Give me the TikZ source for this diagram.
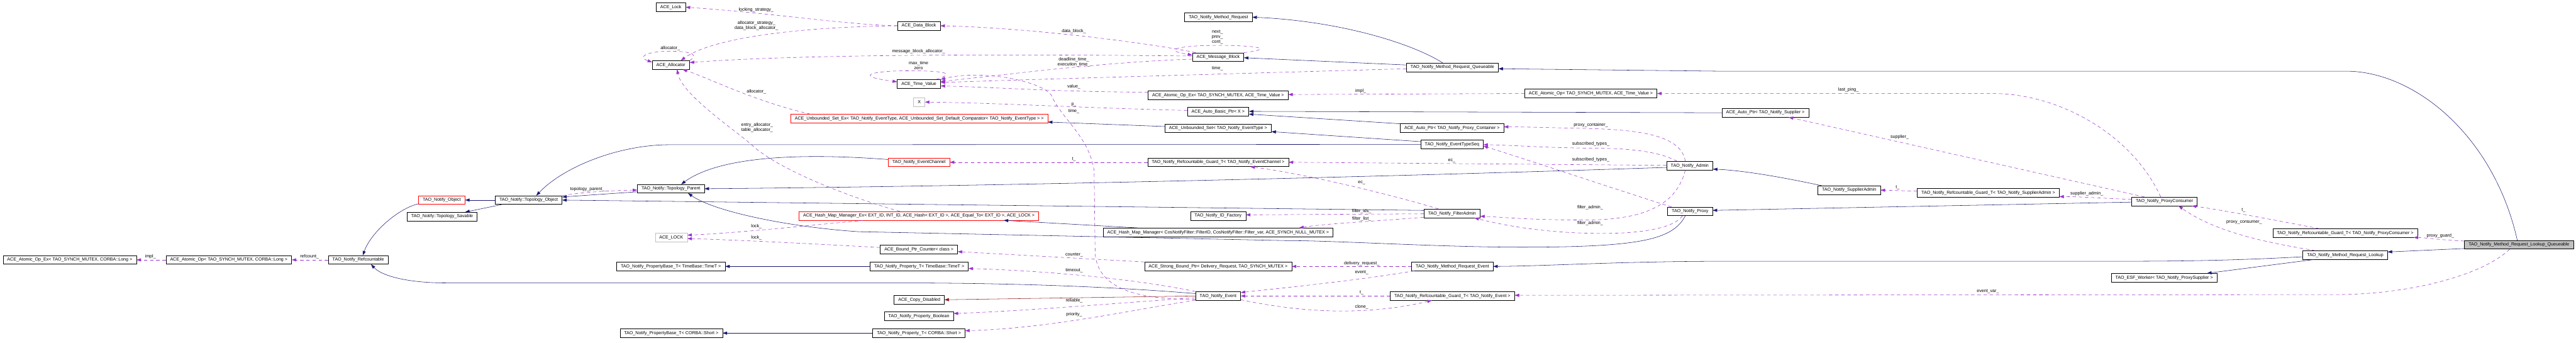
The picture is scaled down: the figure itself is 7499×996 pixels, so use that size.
\documentclass[tikz,border=0pt]{standalone}
\usepackage{fontspec}
\setmainfont{Liberation Sans}
\usepackage{tikz}
\usetikzlibrary{arrows.meta,positioning,calc}
\definecolor{inhblue}{HTML}{191970}
\definecolor{usepurple}{HTML}{9A32CD}
\definecolor{privred}{HTML}{8B1A1A}
\definecolor{nodocgray}{HTML}{BFBFBF}
\newcommand{\dxfont}{\fontsize{13bp}{15bp}\selectfont}
\tikzstyle{cls} = [draw, rectangle, line width=1bp, minimum height=25bp, inner xsep=12bp, inner ysep=0pt, font=\dxfont]
\tikzstyle{redcls} = [cls, draw=red]
\tikzstyle{nodoc} = [cls, draw=nodocgray]
\tikzstyle{current} = [cls, fill=nodocgray]
\tikzstyle{inherit} = [->, draw=inhblue, line width=1bp]
\tikzstyle{usage} = [->, draw=usepurple, line width=1bp, dash pattern=on 10bp off 8bp]
\tikzstyle{privinh} = [->, draw=privred, line width=1bp]
\tikzstyle{lbl} = [font=\dxfont, inner sep=0pt, align=center]

\begin{document}
\begin{tikzpicture}[auto, x=1bp, y=1bp, >={Triangle[length=13bp,width=9bp]}]
    \useasboundingbox (0,0) rectangle (7499,996);
    \fill [white] (0,0) rectangle (7499,996);
    % Classes
    \node [cls] (lock) at (1953,975) {ACE\_Lock};
    \node [cls] (alloc) at (1953,807) {ACE\_Allocator};
    \node [cls] (datablk) at (2675,921) {ACE\_Data\_Block};
    \node [cls] (timeval) at (2675,752) {ACE\_Time\_Value};
    \node [nodoc] (xnode) at (2676,699) {X};
    \node [redcls] (usetex) at (2676,651) {ACE\_Unbounded\_Set\_Ex< TAO\_Notify\_EventType, ACE\_Unbounded\_Set\_Default\_Comparator< TAO\_Notify\_EventType > >};
    \node [redcls] (evchan) at (2675,524) {TAO\_Notify\_EventChannel};
    \node [cls] (mreq) at (3547,946) {TAO\_Notify\_Method\_Request};
    \node [cls] (msgblk) at (3546,830) {ACE\_Message\_Block};
    \node [cls] (aopextv) at (3546,719) {ACE\_Atomic\_Op\_Ex< TAO\_SYNCH\_MUTEX, ACE\_Time\_Value >};
    \node [cls] (abptr) at (3546,671) {ACE\_Auto\_Basic\_Ptr< X >};
    \node [cls] (uset) at (3546,623) {ACE\_Unbounded\_Set< TAO\_Notify\_EventType >};
    \node [cls] (guardec) at (3546,524) {TAO\_Notify\_Refcountable\_Guard\_T< TAO\_Notify\_EventChannel >};
    \node [cls] (mrq) at (4228,800) {TAO\_Notify\_Method\_Request\_Queueable};
    \node [cls] (aoptv) at (4631,724) {ACE\_Atomic\_Op< TAO\_SYNCH\_MUTEX, ACE\_Time\_Value >};
    \node [cls] (apcont) at (4227,624) {ACE\_Auto\_Ptr< TAO\_Notify\_Proxy\_Container >};
    \node [cls] (etseq) at (4227,576) {TAO\_Notify\_EventTypeSeq};
    \node [cls] (admin) at (4919,514) {TAO\_Notify\_Admin};
    \node [cls] (apsup) at (5139,668) {ACE\_Auto\_Ptr< TAO\_Notify\_Supplier >};
    \node [cls] (aopexl) at (203,240) {ACE\_Atomic\_Op\_Ex< TAO\_SYNCH\_MUTEX, CORBA::Long >};
    \node [cls] (aopl) at (666,240) {ACE\_Atomic\_Op< TAO\_SYNCH\_MUTEX, CORBA::Long >};
    \node [cls] (refc) at (1043,240) {TAO\_Notify\_Refcountable};
    \node [redcls] (nobj) at (1286,414) {TAO\_Notify\_Object};
    \node [cls] (tsav) at (1287,366) {TAO\_Notify::Topology\_Savable};
    \node [cls] (tobj) at (1539,414) {TAO\_Notify::Topology\_Object};
    \node [cls] (tpar) at (1953,447) {TAO\_Notify::Topology\_Parent};
    \node [redcls] (hmmex) at (2675,368) {ACE\_Hash\_Map\_Manager\_Ex< EXT\_ID, INT\_ID, ACE\_Hash< EXT\_ID >, ACE\_Equal\_To< EXT\_ID >, ACE\_LOCK >};
    \node [nodoc] (acelock) at (1954,305) {ACE\_LOCK};
    \node [cls] (pbtime) at (1953,221) {TAO\_Notify\_PropertyBase\_T< TimeBase::TimeT >};
    \node [cls] (pbshort) at (1954,27) {TAO\_Notify\_PropertyBase\_T< CORBA::Short >};
    \node [cls] (idfac) at (3546,368) {TAO\_Notify\_ID\_Factory};
    \node [cls] (hmm) at (3546,320) {ACE\_Hash\_Map\_Manager< CosNotifyFilter::FilterID, CosNotifyFilter::Filter\_var, ACE\_SYNCH\_NULL\_MUTEX >};
    \node [cls] (bpc) at (2675,270) {ACE\_Bound\_Ptr\_Counter< class >};
    \node [cls] (sbp) at (3546,221) {ACE\_Strong\_Bound\_Ptr< Delivery\_Request, TAO\_SYNCH\_MUTEX >};
    \node [cls] (ptime) at (2676,221) {TAO\_Notify\_Property\_T< TimeBase::TimeT >};
    \node [cls] (event) at (3546,135) {TAO\_Notify\_Event};
    \node [cls] (copydis) at (2676,124) {ACE\_Copy\_Disabled};
    \node [cls] (pbool) at (2675,76) {TAO\_Notify\_Property\_Boolean};
    \node [cls] (pshort) at (2675,27) {TAO\_Notify\_Property\_T< CORBA::Short >};
    \node [cls] (fadmin) at (4227,375) {TAO\_Notify\_FilterAdmin};
    \node [cls] (proxy) at (4920,381) {TAO\_Notify\_Proxy};
    \node [cls] (mrev) at (4228,221) {TAO\_Notify\_Method\_Request\_Event};
    \node [cls] (guardev) at (4228,135) {TAO\_Notify\_Refcountable\_Guard\_T< TAO\_Notify\_Event >};
    \node [cls] (supadm) at (5383,443) {TAO\_Notify\_SupplierAdmin};
    \node [cls] (guardsa) at (5788,435) {TAO\_Notify\_Refcountable\_Guard\_T< TAO\_Notify\_SupplierAdmin >};
    \node [cls] (pcons) at (6301,410) {TAO\_Notify\_ProxyConsumer};
    \node [cls] (esf) at (6300,188) {TAO\_ESF\_Worker< TAO\_Notify\_ProxySupplier >};
    \node [cls] (guardpc) at (6827,318) {TAO\_Notify\_Refcountable\_Guard\_T< TAO\_Notify\_ProxyConsumer >};
    \node [current] (lq) at (7333,284) {TAO\_Notify\_Method\_Request\_Lookup\_Queueable};
    \node [cls] (lookup) at (6827,254) {TAO\_Notify\_Method\_Request\_Lookup};

    % Inheritance
    \draw [inherit] ([yshift=7bp]mrq.west) -- ([yshift=-2bp]msgblk.east);
    \draw [inherit] ([xshift=-28bp]mrq.north) .. controls (4110,870) and (3900,935) .. (mreq.east);
    \draw [inherit] ([yshift=12bp]apcont.west) -- ([yshift=-7bp]abptr.east);
    \draw [inherit] (apsup.west) -- ([yshift=1bp]abptr.east);
    \draw [inherit] ([yshift=5bp]uset.west) -- ([yshift=-10bp]usetex.east);
    \draw [inherit] ([yshift=8bp]etseq.west) -- ([yshift=-10bp]uset.east);
    \draw [inherit] (etseq.west) -- (1950,575) .. controls (1800,575) and (1640,510) .. ([xshift=22bp]tobj.north);
    \draw [inherit] ([yshift=8bp]evchan.west) .. controls (2350,550) and (2100,545) .. ([xshift=30bp]tpar.north);
    \draw [inherit] ([yshift=-5bp]admin.west) .. controls (4200,487) and (3000,455) .. (tpar.east);
    \draw [inherit] ([xshift=-80bp]supadm.north) .. controls (5200,478) and (5080,500) .. ([yshift=-10bp]admin.east);
    \draw [inherit] ([yshift=-2bp]pcons.west) -- ([yshift=3bp]proxy.east);
    \draw [inherit] ([xshift=-14bp]proxy.south) .. controls (4870,300) and (4780,278) .. (4450,277) .. controls (4200,276) and (3900,296) .. (3750,296) -- (2500,322) .. controls (2300,335) and (2080,380) .. ([xshift=50bp]tpar.south);
    \draw [inherit] ([yshift=9bp]fadmin.west) -- (tobj.east);
    \draw [inherit] ([yshift=-9bp]tpar.west) -- ([yshift=9bp]tobj.east);
    \draw [inherit] (tobj.west) -- (nobj.east);
    \draw [inherit] ([xshift=-78bp]tobj.south) -- ([xshift=67bp]tsav.north);
    \draw [inherit] ([yshift=-11bp]nobj.west) .. controls (1160,390) and (1080,320) .. ([xshift=13bp]refc.north);
    \draw [inherit] ([yshift=7bp]event.west) .. controls (3200,165) and (2900,173) .. (2600,173) -- (1300,173) .. controls (1180,173) and (1110,195) .. ([xshift=37bp]refc.south);
    \draw [inherit] (ptime.west) -- (pbtime.east);
    \draw [inherit] (pshort.west) -- (pbshort.east);
    \draw [inherit] ([xshift=-233bp]hmm.north) -- ([xshift=247bp]hmmex.south);
    \draw [inherit] ([yshift=-5bp]lookup.west) .. controls (6500,238) and (6350,236) .. (6150,236) -- (5000,236) .. controls (4700,235) and (4500,222) .. (mrev.east);
    \draw [inherit] ([xshift=-91bp]lookup.south) -- ([xshift=125bp]esf.north);
    \draw [inherit] ([yshift=-11bp]lq.west) -- ([yshift=9bp]lookup.east);
    \draw [inherit] ([xshift=-5bp]lq.north) .. controls (7260,600) and (7030,789) .. (6829,789) -- (5000,789) -- ([yshift=-4bp]mrq.east);
    \draw [privinh] (event.west) -- (copydis.east);

    % Members
    \draw [usage] (datablk.west) .. controls (2450,925) and (2250,958) .. (lock.east) node [lbl] at (2201,967) {locking\_strategy\_};
    \draw [usage] (datablk.west) .. controls (2350,918) and (2080,890) .. ([xshift=29bp]alloc.north) node [lbl] at (2202,921) {allocator\_strategy\_\\data\_block\_allocator\_};
    \draw [usage] (alloc.north east) .. controls (2040,840) and (2000,847) .. (1953,847) .. controls (1880,847) and (1855,830) .. ([yshift=8bp]alloc.west) node [lbl] at (1951,855) {allocator\_};
    \draw [usage] ([yshift=3bp]msgblk.west) .. controls (3000,838) and (2350,840) .. ([yshift=7bp]alloc.east) node [lbl] at (2674,846) {message\_block\_allocator\_};
    \draw [usage] ([xshift=58bp]usetex.north west) .. controls (2200,700) and (2060,770) .. ([xshift=34bp]alloc.south) node [lbl] at (2202,729) {allocator\_};
    \draw [usage] ([xshift=-55bp]hmmex.north) .. controls (2480,420) and (2270,500) .. (2190,573) .. controls (2150,610) and (1985,720) .. ([xshift=18bp]alloc.south) node [lbl] at (2204,625) {entry\_allocator\_\\table\_allocator\_};
    \draw [usage] ([xshift=10bp]msgblk.north west) .. controls (3350,870) and (3000,915) .. (datablk.east) node [lbl] at (3126,905) {data\_block\_};
    \draw [usage] (msgblk.north east) .. controls (3720,855) and (3650,864) .. (3546,864) .. controls (3430,864) and (3380,850) .. ([yshift=6bp]msgblk.west) node [lbl] at (3544,888) {next\_\\prev\_\\cont\_};
    \draw [usage] ([yshift=-6bp]msgblk.west) .. controls (3200,815) and (2900,775) .. ([yshift=7bp]timeval.east) node [lbl] at (3126,815) {deadline\_time\_\\execution\_time\_};
    \draw [usage] ([xshift=50bp]timeval.north) .. controls (2790,785) and (2740,790) .. (2640,790) .. controls (2540,790) and (2480,775) .. ([yshift=6bp]timeval.west) node [lbl] at (2674,806) {max\_time\\zero};
    \draw [usage] ([yshift=9bp]aopextv.west) .. controls (3100,728) and (2900,742) .. ([yshift=-6bp]timeval.east) node [lbl] at (3126,744) {value\_};
    \draw [usage] ([yshift=-4bp]mrq.west) .. controls (3600,782) and (3000,765) .. ([yshift=4bp]timeval.east) node [lbl] at (3544,797) {time\_};
    \draw [usage] ([yshift=4bp]abptr.west) .. controls (3200,680) and (2900,697) .. (xnode.east) node [lbl] at (3126,692) {p\_};
    \draw [usage] ([yshift=-10bp]event.west) .. controls (3300,125) and (3195,160) .. (3188,260) -- (3185,500) .. controls (3170,600) and (3090,650) .. (3060,720) .. controls (3030,760) and (2860,795) .. (timeval.north east) node [lbl] at (3126,673) {time\_};
    \draw [usage] (guardec.west) -- (evchan.east) node [lbl] at (3126,533) {t\_};
    \draw [usage] ([yshift=1bp]admin.west) -- (guardec.east) node [lbl] at (4226,529) {ec\_};
    \draw [usage] ([xshift=-39bp]fadmin.north) .. controls (4050,430) and (3800,490) .. ([xshift=94bp]guardec.south) node [lbl] at (3964,464) {ec\_};
    \draw [usage] ([xshift=-37bp]admin.north) .. controls (4820,560) and (4720,565) .. (4631,565) .. controls (4500,566) and (4400,574) .. ([yshift=-1bp]etseq.east) node [lbl] at (4631,577) {subscribed\_types\_};
    \draw [usage] ([xshift=-13bp]admin.north) .. controls (4895,600) and (4780,618) .. (4631,622) .. controls (4500,625) and (4430,627) .. ([yshift=3bp]apcont.east) node [lbl] at (4631,632) {proxy\_container\_};
    \draw [usage] ([xshift=-54bp]proxy.north) .. controls (4720,440) and (4420,540) .. ([yshift=-5bp]etseq.east) node [lbl] at (4631,532) {subscribed\_types\_};
    \draw [usage] (aoptv.west) -- ([yshift=2bp]aopextv.east) node [lbl] at (3961,731) {impl\_};
    \draw [usage] ([xshift=-11bp]pcons.north) .. controls (6210,600) and (6000,724) .. (5800,724) -- (aoptv.east) node [lbl] at (5381,734) {last\_ping\_};
    \draw [usage] ([xshift=-58bp]pcons.north) -- ([xshift=68bp]apsup.south) node [lbl] at (5530,597) {supplier\_};
    \draw [usage] (aopl.west) -- (aopexl.east) node [lbl] at (438,249) {impl\_};
    \draw [usage] (refc.west) -- (aopl.east) node [lbl] at (901,249) {refcount\_};
    \draw [usage] ([yshift=13bp]tobj.east) .. controls (1700,438) and (1790,442) .. ([yshift=-4bp]tpar.west) node [lbl] at (1710,445) {topology\_parent\_};
    \draw [usage] ([xshift=-159bp]hmmex.south) .. controls (2400,345) and (2150,318) .. ([yshift=7bp]acelock.east) node [lbl] at (2202,338) {lock\_};
    \draw [usage] ([yshift=6bp]bpc.west) .. controls (2400,285) and (2150,298) .. ([yshift=-3bp]acelock.east) node [lbl] at (2202,304) {lock\_};
    \draw [usage] ([yshift=13bp]sbp.west) -- ([yshift=-6bp]bpc.east) node [lbl] at (3127,255) {counter\_};
    \draw [usage] (event.north west) .. controls (3300,185) and (3050,208) .. ([yshift=-6bp]ptime.east) node [lbl] at (3127,209) {timeout\_};
    \draw [usage] ([yshift=-5bp]event.west) .. controls (3300,118) and (3000,92) .. ([yshift=8bp]pbool.east) node [lbl] at (3127,122) {reliable\_};
    \draw [usage] ([yshift=-12bp]event.west) .. controls (3300,95) and (3050,40) .. ([yshift=7bp]pshort.east) node [lbl] at (3127,81) {priority\_};
    \draw [usage] ([yshift=-1bp]fadmin.west) -- ([yshift=3bp]idfac.east) node [lbl] at (3964,381) {filter\_ids\_};
    \draw [usage] ([yshift=-11bp]fadmin.west) .. controls (4000,352) and (3850,345) .. ([xshift=236bp]hmm.north) node [lbl] at (3964,360) {filter\_list\_};
    \draw [usage] ([xshift=-13bp]admin.south) .. controls (4885,420) and (4820,357) .. (4620,356) .. controls (4450,356) and (4380,364) .. ([yshift=-8bp]fadmin.east) node [lbl] at (4629,393) {filter\_admin\_};
    \draw [usage] ([xshift=-22bp]proxy.south) .. controls (4870,330) and (4770,317) .. (4667,317) .. controls (4500,317) and (4380,340) .. ([xshift=65bp]fadmin.south) node [lbl] at (4629,347) {filter\_admin\_};
    \draw [usage] (mrev.west) -- (sbp.east) node [lbl] at (3964,230) {delivery\_request\_};
    \draw [usage] ([xshift=-111bp]mrev.south) .. controls (3950,180) and (3750,160) .. ([yshift=10bp]event.east) node [lbl] at (3964,204) {event\_};
    \draw [usage] (guardev.west) -- (event.east) node [lbl] at (3964,144) {t\_};
    \draw [usage] ([yshift=-11bp]event.east) .. controls (3750,95) and (3950,70) .. ([xshift=-60bp]guardev.south) node [lbl] at (3964,104) {clone\_};
    \draw [usage] ([yshift=5bp]guardsa.west) -- (supadm.east) node [lbl] at (5524,451) {t\_};
    \draw [usage] ([yshift=6bp]pcons.west) .. controls (6100,420) and (6060,424) .. ([yshift=-11bp]guardsa.east) node [lbl] at (6075,432) {supplier\_admin\_};
    \draw [usage] ([xshift=-27bp]lq.south) .. controls (7220,190) and (7000,139) .. (6800,139) -- ([yshift=2bp]guardev.east) node [lbl] at (5787,149) {event\_var\_};
    \draw [usage] ([xshift=-75bp]guardpc.north) .. controls (6650,350) and (6470,385) .. ([xshift=80bp]pcons.south) node [lbl] at (6531,385) {t\_};
    \draw [usage] ([xshift=-87bp]lookup.north) .. controls (6600,290) and (6450,320) .. ([xshift=41bp]pcons.south) node [lbl] at (6533,349) {proxy\_consumer\_};
    \draw [usage] ([yshift=11bp]lq.west) .. controls (7110,297) and (7060,305) .. ([xshift=-12bp]guardpc.south east) node [lbl] at (7104,310) {proxy\_guard\_};
\end{tikzpicture}
\end{document}
